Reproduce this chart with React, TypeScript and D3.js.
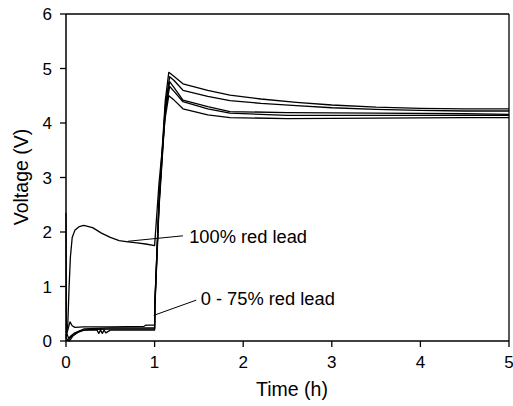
import React from "react";
import * as d3 from "d3";

// ---- data (time in h, voltage in V) ----
const curveA_t = [0, 0.02, 0.045, 0.07, 0.1, 0.2, 0.5, 0.88, 0.9, 1.0, 1.003, 1.05, 1.12, 1.16, 1.2, 1.32, 1.6, 1.85, 2.2, 2.6, 3.0, 3.5, 4.0, 4.5, 5.0];
const curveA_v = [0.1, 0.2, 0.35, 0.28, 0.25, 0.26, 0.26, 0.27, 0.29, 0.29, 0.7, 2.6, 4.4, 4.93, 4.88, 4.72, 4.6, 4.51, 4.44, 4.38, 4.33, 4.29, 4.27, 4.26, 4.26];

const curveB_t = [0, 0.005, 0.03, 0.06, 0.1, 0.2, 0.5, 1.0, 1.003, 1.05, 1.12, 1.17, 1.22, 1.32, 1.6, 1.85, 2.2, 2.6, 3.0, 3.5, 4.0, 4.5, 5.0];
const curveB_v = [2.35, 0.15, 0.05, 0.1, 0.15, 0.22, 0.24, 0.24, 0.7, 2.55, 4.3, 4.85, 4.78, 4.6, 4.49, 4.41, 4.36, 4.32, 4.28, 4.25, 4.23, 4.22, 4.22];

const curveC_t = [0, 0.03, 0.06, 0.1, 0.15, 0.25, 0.5, 1.0, 1.003, 1.05, 1.12, 1.17, 1.22, 1.32, 1.6, 1.85, 2.5, 3.5, 4.5, 5.0];
const curveC_v = [0, 0.02, 0.08, 0.12, 0.18, 0.21, 0.22, 0.22, 0.65, 2.5, 4.25, 4.76, 4.65, 4.42, 4.3, 4.21, 4.19, 4.18, 4.17, 4.16];

const curveD_t = [0, 0.04, 0.08, 0.12, 0.2, 0.35, 0.37, 0.39, 0.41, 0.43, 0.45, 0.5, 1.0, 1.003, 1.05, 1.12, 1.17, 1.22, 1.32, 1.6, 1.85, 2.5, 3.5, 4.5, 5.0];
const curveD_v = [0.05, 0.0, 0.1, 0.15, 0.2, 0.2, 0.14, 0.2, 0.14, 0.2, 0.15, 0.2, 0.2, 0.6, 2.45, 4.2, 4.67, 4.58, 4.39, 4.26, 4.18, 4.14, 4.14, 4.14, 4.14];

const curve100_t = [0, 0.02, 0.035, 0.05, 0.07, 0.1, 0.15, 0.2, 0.3, 0.4, 0.5, 0.6, 0.7, 0.8, 0.9, 1.0, 1.05, 1.12, 1.16, 1.22, 1.32, 1.6, 1.85, 2.5, 3.5, 4.5, 5.0];
const curve100_v = [0.05, 0.3, 1.0, 1.55, 1.9, 2.03, 2.1, 2.12, 2.08, 1.98, 1.9, 1.84, 1.82, 1.8, 1.78, 1.75, 2.9, 4.1, 4.5, 4.42, 4.26, 4.15, 4.1, 4.08, 4.09, 4.1, 4.1];

const xTicks = [0, 1, 2, 3, 4, 5];
const yTicks = [0, 1, 2, 3, 4, 5, 6];

const labels = ["100% red lead", "0 - 75% red lead"];
// label anchor (t, V), leader start (t, V) -> leader end (t, V)
const labelPos_t = [1.39, 1.52];
const labelPos_v = [1.8, 0.66];
const leaderFrom_t = [1.32, 1.47];
const leaderFrom_v = [1.93, 0.75];
const leaderTo_t = [0.7, 0.99];
const leaderTo_v = [1.83, 0.47];

const series = [
  { t: curveA_t, v: curveA_v },
  { t: curveB_t, v: curveB_v },
  { t: curveC_t, v: curveC_v },
  { t: curveD_t, v: curveD_v },
  { t: curve100_t, v: curve100_v },
];

export default function App() {
  const W = 513, H = 406;
  const L = 66, R = 509, T = 14, B = 341;
  const x = d3.scaleLinear().domain([0, 5]).range([L, R]);
  const y = d3.scaleLinear().domain([0, 6]).range([B, T]);
  const line = d3
    .line<[number, number]>()
    .x((d) => x(d[0]))
    .y((d) => y(d[1]))
    .curve(d3.curveLinear);
  const font = "Arial, 'Liberation Sans', Helvetica, sans-serif";

  return (
    <svg
      width={W}
      height={H}
      style={{ position: "absolute", left: 0, top: 0, background: "#fff" }}
      fontFamily={font}
    >
      <rect x={0} y={0} width={W} height={H} fill="#fff" />
      {/* data lines */}
      <g fill="none" stroke="#000" strokeWidth={1.3} strokeLinejoin="round">
        {series.map((s, i) => (
          <path key={i} d={line(s.t.map((t, j) => [t, s.v[j]]) as [number, number][]) || ""} />
        ))}
      </g>
      {/* frame */}
      <g stroke="#000" fill="none">
        <line x1={L} x2={R} y1={T} y2={T} strokeWidth={1.3} />
        <line x1={R} x2={R} y1={T} y2={B} strokeWidth={1.3} />
        <line x1={L} x2={L} y1={T} y2={B} strokeWidth={1.5} />
        <line x1={L} x2={R} y1={B} y2={B} strokeWidth={1.5} />
      </g>
      {/* y ticks */}
      {yTicks.map((v) => (
        <g key={"y" + v}>
          <line x1={L - 6} x2={L} y1={y(v)} y2={y(v)} stroke="#000" strokeWidth={1.3} />
          <text x={L - 14} y={y(v)} dy="0.36em" textAnchor="end" fontSize={17}>
            {v}
          </text>
        </g>
      ))}
      {/* x ticks */}
      {xTicks.map((t) => (
        <g key={"x" + t}>
          <line x1={x(t)} x2={x(t)} y1={B} y2={B + 6} stroke="#000" strokeWidth={1.3} />
          <text x={x(t)} y={B + 27} textAnchor="middle" fontSize={17}>
            {t}
          </text>
        </g>
      ))}
      {/* axis titles */}
      <text x={292} y={396} textAnchor="middle" fontSize={19.5}>
        Time (h)
      </text>
      <text
        transform={`translate(28,177) rotate(-90)`}
        textAnchor="middle"
        fontSize={19.5}
      >
        Voltage (V)
      </text>
      {/* annotations */}
      {labels.map((lab, i) => (
        <g key={lab}>
          <line
            x1={x(leaderFrom_t[i])}
            y1={y(leaderFrom_v[i])}
            x2={x(leaderTo_t[i])}
            y2={y(leaderTo_v[i])}
            stroke="#000"
            strokeWidth={1}
          />
          <text x={x(labelPos_t[i])} y={y(labelPos_v[i])} fontSize={18.3}>
            {lab}
          </text>
        </g>
      ))}
    </svg>
  );
}
